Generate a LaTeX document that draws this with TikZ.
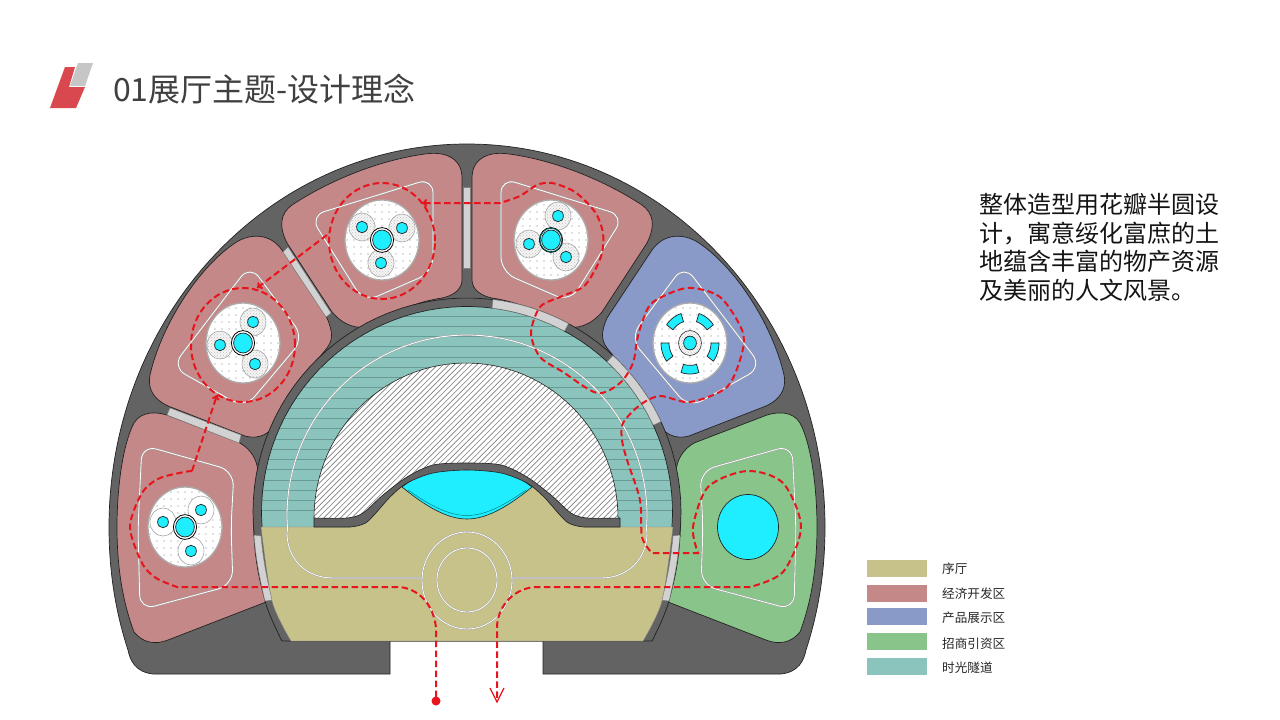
\documentclass[tikz,border=0pt]{standalone}
\usepackage{fontspec}
\setmainfont{Noto Sans CJK SC}
\usetikzlibrary{arrows.meta,patterns}
\definecolor{dk}{HTML}{636363}
\definecolor{pinkz}{HTML}{C48888}
\definecolor{bluez}{HTML}{8A9AC8}
\definecolor{greenz}{HTML}{89C48A}
\definecolor{tealz}{HTML}{8BC4BC}
\definecolor{stripez}{HTML}{6A9A94}
\definecolor{olivez}{HTML}{C6C28A}
\definecolor{cyanz}{HTML}{1EEEFF}
\definecolor{doorz}{HTML}{D2D2D2}
\definecolor{redz}{HTML}{E8141C}
\definecolor{edgez}{HTML}{222222}
\definecolor{logored}{HTML}{D9474F}
\tikzset{
  petal/.style={draw=edgez,line width=.7pt},
  doorp/.style={fill=doorz,draw=gray,line width=.4pt},
  wline/.style={draw=gray!75,double=white,double distance=.8pt,line width=.4pt},
  inner/.style={wline,rounded corners=15pt},
  route/.style={draw=redz,line width=2pt,dash pattern=on 6.5pt off 3.5pt},
  tipa/.style={-{To[length=5pt,width=8pt]}},
  cy/.style={fill=cyanz,draw=edgez,line width=.7pt},
  lobez/.style={draw=gray!70,line width=.6pt},
  legendbox/.style={minimum width=60pt,minimum height=17pt,inner sep=0pt,anchor=north west},
  legendtxt/.style={anchor=west,inner sep=0pt,font=\fontsize{12.6}{14}\selectfont,text=black!85}
}
\newcommand{\discbase}{%
  \fill[white] (0,0) ellipse [x radius=37pt,y radius=40pt];
  \begin{scope}
    \clip (0,0) ellipse [x radius=37pt,y radius=40pt];
    \foreach \px in {-42,-35,...,42}{\foreach \py in {-42,-35,...,42}{\fill[gray] (\px,\py) circle [radius=.55pt];}}
  \end{scope}
  \draw[gray!65,line width=1.3pt] (0,0) ellipse [x radius=37pt,y radius=40pt];}
\newcommand{\lobedot}[2]{%
  \fill[gray!8] (#1,#2) ellipse [x radius=13pt,y radius=14pt];
  \fill[pattern=crosshatch dots,pattern color=gray!50] (#1,#2) ellipse [x radius=13pt,y radius=14pt];
  \draw[lobez] (#1,#2) ellipse [x radius=13pt,y radius=14pt];
  \draw[cy] (#1,#2) ellipse [x radius=5.4pt,y radius=5.8pt];}
\newcommand{\lobeplain}[2]{%
  \fill[white] (#1,#2) ellipse [x radius=13pt,y radius=14pt];
  \draw[lobez] (#1,#2) ellipse [x radius=13pt,y radius=14pt];
  \draw[cy] (#1,#2) ellipse [x radius=5.4pt,y radius=5.8pt];}
\newcommand{\hub}{%
  \draw[fill=white,draw=black,line width=.8pt] (0,0) ellipse [x radius=11.6pt,y radius=12.4pt];
  \draw[cy] (0,0) ellipse [x radius=9.4pt,y radius=10pt];}
\newcommand{\petalA}{(240,443) .. controls (250,449) and (257,458) .. (258,472) .. controls (255,490) and (253,515) .. (254,535) .. controls (255,560) and (260,585) .. (266,602) -- (168,640) .. controls (155,645) and (143,643) .. (134,632) .. controls (122,600) and (117,565) .. (117,527) .. controls (117,490) and (122,450) .. (132,427) .. controls (137,414) and (150,410) .. (167,415) -- cycle}
\newcommand{\petalB}{(282,250) -- (327,318) .. controls (333,332) and (333,340) .. (327,348) .. controls (305,375) and (290,395) .. (277,420) .. controls (272,434) and (258,440) .. (245,436) -- (168,406) .. controls (155,400) and (147,390) .. (150,375) .. controls (160,330) and (195,270) .. (235,243) .. controls (250,233) and (270,233) .. (282,250) -- cycle}
\newcommand{\petalC}{(287,243) .. controls (278,225) and (281,213) .. (292,205) .. controls (330,180) and (380,160) .. (425,154) .. controls (445,151) and (462,158) .. (462,178) -- (462,280) .. controls (462,290) and (452,296) .. (442,298) .. controls (415,302) and (395,312) .. (372,325) .. controls (358,331) and (343,325) .. (332,312) -- cycle}
\begin{document}
\begin{tikzpicture}[x=1pt,y=-1pt]
\useasboundingbox (0,0) rectangle (1280,720);
\fill[white] (0,0) rectangle (1280,720);
% logo
\fill[logored] (65,67) -- (75,67) -- (69,87) -- (85,87) -- (76,108) -- (50,108) -- cycle;
\fill[gray!45] (78,63) -- (93,63) -- (85,86) -- (70,86) -- cycle;
\node[anchor=west,inner sep=0pt,text=black!75,font=\fontsize{32}{34}\selectfont] (title) at (113,89) {01展厅主题-设计理念};
% outer shape
\draw[fill=dk,draw=edgez,line width=.7pt] (390,641) -- (390,674) -- (153,674) .. controls (135,672) and (130,660) .. (128,650) .. controls (115,610) and (109,570) .. (109,527) .. controls (109,315) and (269,144) .. (467,144) .. controls (665,144) and (825,315) .. (825,527) .. controls (825,570) and (819,610) .. (806,650) .. controls (804,660) and (799,672) .. (781,674) -- (543,674) -- (543,641) -- cycle;
% petals
\path[petal,fill=pinkz] \petalA;
\path[petal,fill=pinkz] \petalB;
\path[petal,fill=pinkz] \petalC;
\begin{scope}[shift={(934,0)},xscale=-1]
\path[petal,fill=greenz] \petalA;
\path[petal,fill=bluez] \petalB;
\path[petal,fill=pinkz] \petalC;
\end{scope}
% doors between petals
\draw[doorp] (170,408) -- (167,415) -- (239,443) -- (241,435) -- cycle;
\draw[doorp] (283,252) -- (288,247) -- (331,313) -- (326,317) -- cycle;
\draw[doorp] (463,187) -- (470.5,187) -- (470.5,268) -- (463,268) -- cycle;
% ring
\draw[fill=dk,draw=edgez,line width=.7pt] (282,641) -- plot[smooth] coordinates {(282,641) (265,601) (254,535)} -- plot[domain=173.8:366.2,samples=60] ({467+214*cos(\x)},{512+214*sin(\x)}) -- plot[smooth] coordinates {(680,535) (669,601) (652,641)} -- cycle;
% teal
\begin{scope}
\clip plot[domain=175.8:364.2,samples=60] ({467+205.5*cos(\x)},{512+205.5*sin(\x)}) -- cycle;
\fill[tealz] (240,290) rectangle (700,530);
\foreach \k in {0,...,19}{\draw[stripez,line width=.7pt] (240,{316+10.25*\k}) -- (700,{316+10.25*\k});}
\end{scope}
\draw[edgez,line width=.7pt] plot[domain=175.8:364.2,samples=60] ({467+205.5*cos(\x)},{512+205.5*sin(\x)});
% olive
\draw[fill=olivez,draw=gray,line width=.4pt] (261,527) -- (350,527) -- plot[smooth] coordinates {(350,527) (367,522) (390,497) (407,483) (433,473) (467,470) (501,473) (527,483) (544,497) (567,522) (584,527)} -- (673,527) -- plot[smooth] coordinates {(673,527) (662,601) (643,641)} -- (291,641) -- plot[smooth] coordinates {(291,641) (272,601) (261,527)} -- cycle;
% hatched half
\begin{scope}
\clip plot[domain=180:360,samples=60] ({466+152*cos(\x)},{518+155*sin(\x)}) -- plot[smooth] coordinates {(620,518) (587,518) (571,513) (551,495) (527,477) (501,465) (467,463) (433,465) (407,477) (383,495) (363,513) (347,518) (314,518)} -- cycle;
\fill[white] (300,350) rectangle (640,530);
\foreach \k in {0,...,100}{\draw[gray,line width=.65pt] ({110+5.6*\k},530) -- ({110+5.6*\k+190},340);}
\end{scope}
\draw[edgez,line width=.6pt] plot[domain=180:360,samples=60] ({466+152*cos(\x)},{518+155*sin(\x)});
% lens
\draw[fill=cyanz,draw=edgez,line width=.6pt] (402,487) .. controls (430,510) and (450,519) .. (467,519) .. controls (484,519) and (504,510) .. (532,487) .. controls (510,470) and (490,465) .. (467,465) .. controls (444,465) and (424,470) .. (402,487) -- cycle;
\draw[draw=teal,line width=.5pt] (408,490) .. controls (432,507) and (450,515.5) .. (467,515.5) .. controls (484,515.5) and (502,507) .. (526,490);
% band
\draw[fill=dk,draw=edgez,line width=.6pt] plot[smooth] coordinates {(314,518) (347,518) (363,513) (383,495) (407,477) (433,465) (467,463) (501,465) (527,477) (551,495) (571,513) (587,518) (620,518)} -- (620,527) -- (584,527) -- plot[smooth] coordinates {(584,527) (567,522) (544,497) (527,483) (501,473) (467,470) (433,473) (407,483) (390,497) (367,522) (350,527)} -- (314,527) -- cycle;
% ring doors
\draw[doorp] plot[domain=-83:-61.7,samples=10] ({467+214*cos(\x)},{512+214*sin(\x)}) -- plot[domain=-61.7:-83,samples=10] ({467+205.5*cos(\x)},{512+205.5*sin(\x)}) -- cycle;
\draw[doorp] plot[domain=-47:-25,samples=10] ({467+214*cos(\x)},{512+214*sin(\x)}) -- plot[domain=-25:-47,samples=10] ({467+205.5*cos(\x)},{512+205.5*sin(\x)}) -- cycle;
\draw[doorp] (254,535) -- (261,536) .. controls (263,560) and (267,580) .. (272,600) -- (265,601) .. controls (260,580) and (256,560) .. (254,535) -- cycle;
\draw[doorp] (680,535) -- (673,536) .. controls (671,560) and (667,580) .. (662,600) -- (669,601) .. controls (674,580) and (678,560) .. (680,535) -- cycle;
% white lines in the hall
\path[wline] (421.7,578) -- (333,578) .. controls (305,578) and (287,558) .. (287,533) -- plot[domain=175.5:364.5,samples=60] ({467+180*cos(\x)},{515+180*sin(\x)}) -- (647,533) .. controls (647,558) and (629,578) .. (601,578) -- (511.7,578);
\path[wline] (467,580.5) ellipse [x radius=45pt,y radius=48.5pt];
\path[wline] (467,580) ellipse [x radius=30pt,y radius=32pt];
% inner white outlines in petals
\newcommand{\outA}{(142,445) -- (234,471) -- (231,527) -- (233,585) -- (140,610) -- (138,527) -- cycle}
\newcommand{\outB}{(250,265) -- (304,338) -- (245,408) -- (172,367) -- cycle}
\newcommand{\outC}{(310,216) -- (433,178) -- (433,272) -- (364,302) -- cycle}
\path[inner] \outA; \path[inner] \outB; \path[inner] \outC;
\begin{scope}[shift={(934,0)},xscale=-1]
\path[inner] \outA; \path[inner] \outB; \path[inner] \outC;
\end{scope}
% exhibits
\begin{scope}[shift={(185,527)}]
\discbase \lobeplain{16}{-17}\lobeplain{-22}{-5}\lobeplain{6}{24}\hub
\end{scope}
\begin{scope}[shift={(243,343)}]
\discbase \lobedot{-23}{2}\lobedot{10}{-21}\lobedot{12}{21}\hub
\end{scope}
\begin{scope}[shift={(382,240)}]
\discbase \lobedot{-20}{-13}\lobedot{20}{-12}\lobedot{-1}{23}\hub
\end{scope}
\begin{scope}[shift={(551,240)}]
\discbase \lobedot{7}{-24}\lobedot{-22}{4}\lobedot{15}{17}\hub
\draw[teal!70!black,line width=1pt] (0,0) ellipse [x radius=11pt,y radius=11.8pt];
\end{scope}
\begin{scope}[shift={(690,343)}]
\discbase
\fill[gray!8] (0,0) ellipse [x radius=11.5pt,y radius=12.5pt];
\fill[pattern=crosshatch dots,pattern color=gray!50] (0,0) ellipse [x radius=11.5pt,y radius=12.5pt];
\draw[gray!40!black,line width=.6pt] (0,0) ellipse [x radius=11.5pt,y radius=12.5pt];
\draw[cy] (0,0) ellipse [x radius=6.4pt,y radius=6.9pt];
\foreach \ang in {-54,18,90,162,234}{
  \draw[cy,line join=round] plot[domain=\ang-18:\ang+18,samples=8] ({29*cos(\x)},{31*sin(\x)}) -- plot[domain=\ang+18:\ang-18,samples=8] ({21*cos(\x)},{22.4*sin(\x)}) -- cycle;}
\end{scope}
\draw[cy] (748,527) ellipse [x radius=30.5pt,y radius=32.5pt];
% routes
\draw[route] (436,697) -- (436,628) .. controls (434,605) and (418,587) .. (397,587) -- (177,587) -- plot[smooth] coordinates {(177,587) (156,578) (142,563) (130,527) (142,493) (160,478) (190,471)} -- (192,471);
\draw[route,tipa] (192,471) -- (217,395);
\fill[redz] (436,701) circle [radius=4.5pt];
\draw[route] (243,345) ellipse [x radius=52pt,y radius=57pt];
\draw[route] (382,241) ellipse [x radius=53pt,y radius=58pt];
\draw[route,tipa] (327,235) -- (257,288);
\draw[route,{To[length=5pt,width=8pt]}-] (422,203) -- (500,203) -- plot[smooth] coordinates {(500,203) (520,196) (537,185) (552,183) (575,192) (595,212) (603,233) (602,253) (595,270) (583,287) (560,297) (540,307) (531,333) (540,357) (563,372) (597,393) (620,383) (633,363) (637,340) (643,320) (653,302) (687,288) (720,297) (742,330) (742,353) (727,387) (690,402) (660,396) (640,405) (623,423) (622,440) (627,460) (640,500) (642,537) (652,553)} -- (698,553) -- plot[smooth] coordinates {(698,553) (693,527) (708,487) (747,471) (783,483) (801,527) (783,572) (750,587)} -- (537,587) .. controls (516,587) and (497,605) .. (497,628) -- (497,700);
\draw[redz,line width=1.3pt] (490,688) -- (497,702) -- (504,688);
% legend
\node[legendbox,fill=olivez] (lg1) at (867,560) {};
\node[legendbox,fill=pinkz] (lg2) at (867,585) {};
\node[legendbox,fill=bluez] (lg3) at (867,608) {};
\node[legendbox,fill=greenz] (lg4) at (867,633) {};
\node[legendbox,fill=tealz] (lg5) at (867,658) {};
\node[legendtxt] (lt1) at (942,569) {序厅};
\node[legendtxt] (lt2) at (942,594) {经济开发区};
\node[legendtxt] (lt3) at (942,618) {产品展示区};
\node[legendtxt] (lt4) at (942,644) {招商引资区};
\node[legendtxt] (lt5) at (942,668) {时光隧道};
% body text
\node[anchor=north west,inner sep=0pt,align=left,text=black!92,font=\fontsize{24}{28.7}\selectfont] (body) at (979,193) {整体造型用花瓣半圆设\\计，寓意绥化富庶的土\\地蕴含丰富的物产资源\\及美丽的人文风景。};
\end{tikzpicture}
\end{document}
